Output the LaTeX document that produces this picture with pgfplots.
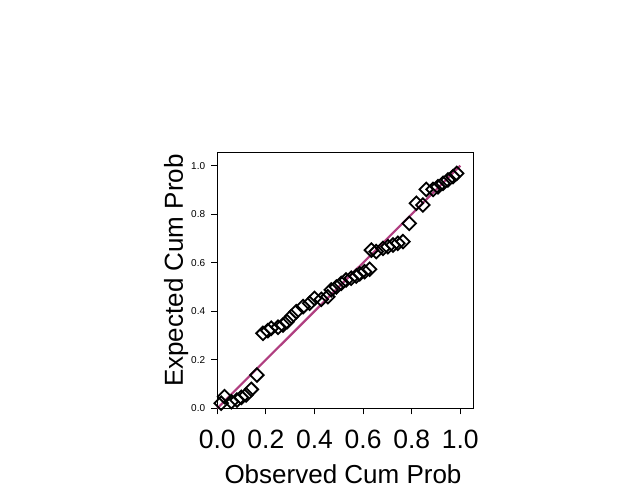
\documentclass[border=0pt]{standalone}
\usepackage{fontspec}
\setmainfont{Liberation Sans}
\usepackage{pgfplots}
\pgfplotsset{compat=1.18}
\definecolor{refline}{RGB}{176,62,128}
\begin{document}
\begin{tikzpicture}[x=1pt,y=1pt]
\useasboundingbox (0,0) rectangle (624,499);
\begin{axis}[
  at={(217.3pt,90.7pt)}, anchor=south west,
  width=256pt, height=256pt, scale only axis,
  xmin=0, xmax=1.0535, ymin=0, ymax=1.055,
  xtick={0,0.2,0.4,0.6,0.8,1.0}, ytick={0,0.2,0.4,0.6,0.8,1.0},
  xticklabels={0.0,0.2,0.4,0.6,0.8,1.0},
  yticklabels={0.0,0.2,0.4,0.6,0.8,1.0},
  tick pos=left, tick align=outside,
  major tick length=6pt,
  tick style={black, line width=1pt},
  axis line style={black, line width=1pt},
  xticklabel style={font=\fontsize{26.5}{26}\selectfont, inner sep=0pt, anchor=north, yshift=-15pt},
  yticklabel style={font=\fontsize{10}{10}\selectfont, inner sep=0pt, anchor=east, xshift=-6pt},
  xlabel={Observed Cum Prob},
  ylabel={Expected Cum Prob},
  xlabel style={font=\fontsize{26}{30}\selectfont, at={(axis description cs:0.491,-0.2918)}, anchor=base, inner sep=0pt},
  ylabel style={font=\fontsize{26}{30}\selectfont, at={(axis description cs:-0.134,0.538)}, anchor=base, inner sep=0pt},
  clip=false,
]
\addplot[only marks, mark=square, mark size=4.8pt, mark options={rotate=45, line width=1.8pt, black, fill=none}] coordinates {
(0.016,0.021)(0.030,0.048)(0.058,0.027)(0.081,0.034)(0.099,0.045)(0.119,0.055)(0.140,0.078)(0.163,0.137)
(0.188,0.309)(0.208,0.320)(0.222,0.330)(0.250,0.334)(0.270,0.343)(0.287,0.357)(0.305,0.378)(0.325,0.398)
(0.353,0.419)(0.380,0.433)(0.400,0.453)(0.428,0.449)(0.455,0.460)(0.469,0.488)(0.490,0.500)(0.510,0.515)
(0.530,0.529)(0.551,0.536)(0.572,0.545)(0.586,0.554)(0.606,0.563)(0.627,0.573)(0.634,0.652)(0.654,0.646)
(0.682,0.659)(0.702,0.666)(0.723,0.673)(0.743,0.680)(0.764,0.687)(0.790,0.762)(0.819,0.845)(0.846,0.838)
(0.860,0.902)(0.888,0.902)(0.908,0.913)(0.929,0.927)(0.949,0.941)(0.970,0.955)(0.985,0.968)
};
\addplot[refline, line width=2.2pt, no marks] coordinates {(0,0)(1,1)};
\end{axis}
\end{tikzpicture}
\end{document}
